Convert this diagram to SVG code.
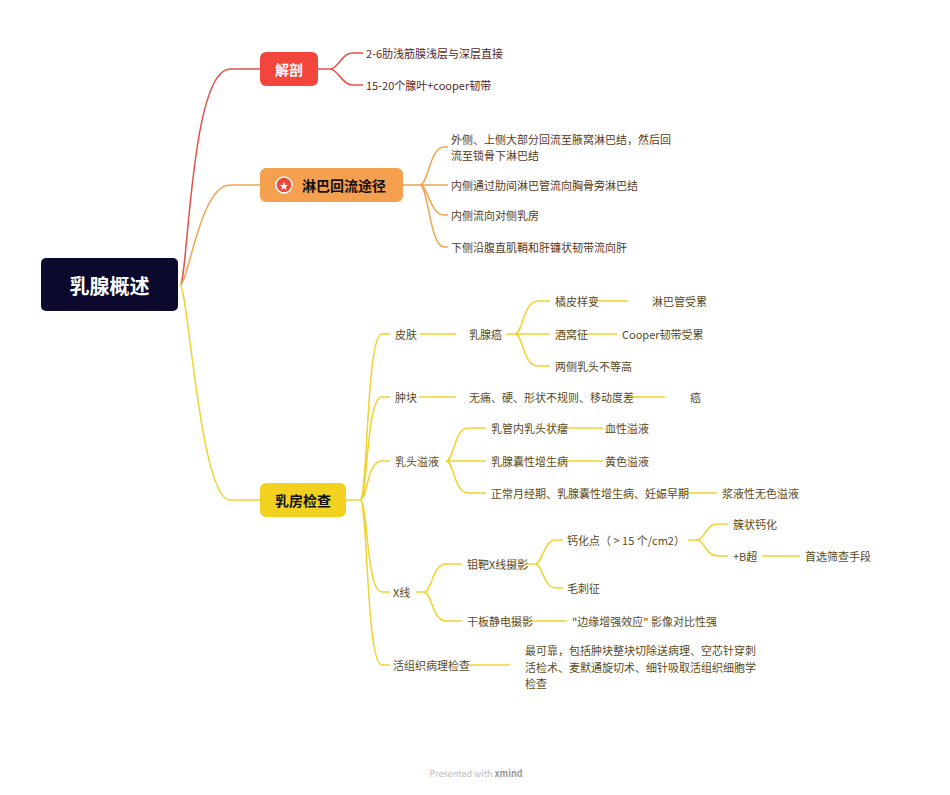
<svg xmlns="http://www.w3.org/2000/svg" width="950" height="795" viewBox="0 0 950 795">
<style>
text{font-family:"Noto Sans CJK SC","Noto Sans",sans-serif;dominant-baseline:central}
.t{font-size:11px;fill:#5b4a1a}
.tr{font-size:11px;fill:#5c1f1f}
.to{font-size:11px;fill:#5a3a1a}
.r{stroke:#e6504a;fill:none;stroke-width:1.5}
.o{stroke:#f0a550;fill:none;stroke-width:1.5}
.y{stroke:#f2d230;fill:none;stroke-width:1.5}
.h{font-size:14px;font-weight:bold}
</style>
<rect width="950" height="795" fill="#fff"/>
<g id="connectors">
<path class="r" d="M180 285 C188 285 190 69 230 69 L260 69"/>
<path class="o" d="M180 285 C188 285 200 185 230 185 L260 185"/>
<path class="y" d="M180 285 C188 285 200 500 230 500 L260 500"/>
<path class="r" d="M318 69 L330 69 C338 69 342 53 352 53 L363 53 M330 69 C338 69 342 85 352 85 L363 85"/>
<path class="o" d="M403 185 L420 185 M420 185 C428 185 430 147 444 147 L448 147 M420 185 L448 185 M420 185 C428 185 430 215 444 215 L448 215 M420 185 C428 185 430 247 444 247 L448 247"/>
<path class="y" d="M346 500 L360 500 M360 500 C368 500 366 334 382 334 L390 334 M360 500 C368 500 366 397 382 397 L390 397 M360 500 C368 500 366 461 382 461 L390 461 M360 500 C368 500 366 592 382 592 L390 592 M360 500 C368 500 366 665 382 665 L390 665"/>
<path class="y" d="M420 334 L456 334 M506 334 L515 334 C523 334 523 301 538 301 L550 301 M515 334 L550 334 M515 334 C523 334 523 366 538 366 L550 366"/>
<path class="y" d="M590 301 L628 301 M578 334 L617 334 M419 397 L456 397 M625 397 L665 397"/>
<path class="y" d="M446 461 C454 461 454 428 468 428 L486 428 M446 461 L486 461 M446 461 C454 461 454 493 468 493 L486 493 M563 428 L603 428 M563 461 L603 461 M678 493 L717 493"/>
<path class="y" d="M416 592 L424 592 C432 592 432 564 446 564 L462 564 M424 592 C432 592 432 621 446 621 L462 621"/>
<path class="y" d="M526 564 L535 564 C543 564 543 540 556 540 L563 540 M535 564 C543 564 543 588 556 588 L563 588 M527 621 L567 621"/>
<path class="y" d="M688 540 L697 540 C705 540 705 524 718 524 L728 524 M697 540 C705 540 705 556 718 556 L728 556 M762 556 L800 556 M470 665 L510 665"/>
</g>
<g id="root"><rect x="41" y="258" width="137" height="53" rx="5" fill="#0b0a2e"/><text x="109.5" y="285" fill="#fff" font-size="20" font-weight="bold" text-anchor="middle">乳腺概述</text></g>
<g id="n-jiepou"><rect x="260" y="52" width="58" height="34" rx="6" fill="#f2463d"/><text x="289" y="69" fill="#fff" class="h" text-anchor="middle">解剖</text></g>
<g id="n-jp1"><text x="366" y="53" class="tr">2-6肋浅筋膜浅层与深层直接</text></g>
<g id="n-jp2"><text x="366" y="85" class="tr">15-20个腺叶+cooper韧带</text></g>
<g id="n-lin"><rect x="260" y="168" width="143" height="34" rx="6" fill="#f4a04e"/><circle cx="284" cy="185" r="8" fill="#e8493f" stroke="#fff" stroke-width="1.5"/><text x="284" y="185.5" fill="#fff" font-size="9" text-anchor="middle">★</text><text x="302" y="185" class="h" fill="#111">淋巴回流途径</text></g>
<g id="n-l1"><text x="451" y="139" class="to">外侧、上侧大部分回流至腋窝淋巴结，然后回</text><text x="451" y="155" class="to">流至锁骨下淋巴结</text></g>
<g id="n-l2"><text x="451" y="185" class="to">内侧通过肋间淋巴管流向胸骨旁淋巴结</text></g>
<g id="n-l3"><text x="451" y="215" class="to">内侧流向对侧乳房</text></g>
<g id="n-l4"><text x="451" y="247" class="to">下侧沿腹直肌鞘和肝镰状韧带流向肝</text></g>
<g id="n-exam"><rect x="260" y="483" width="86" height="34" rx="6" fill="#f2d21e"/><text x="303" y="500" class="h" fill="#111" text-anchor="middle">乳房检查</text></g>
<g id="n-pf"><text x="395" y="334" class="t">皮肤</text></g>
<g id="n-rxa"><text x="469" y="334" class="t">乳腺癌</text></g>
<g id="n-jp"><text x="555" y="301" class="t">橘皮样变</text></g>
<g id="n-lbg"><text x="652" y="301" class="t">淋巴管受累</text></g>
<g id="n-jwz"><text x="555" y="334" class="t">酒窝征</text></g>
<g id="n-cp"><text x="622" y="334" class="t">Cooper韧带受累</text></g>
<g id="n-lc"><text x="555" y="366" class="t">两侧乳头不等高</text></g>
<g id="n-zk"><text x="395" y="397" class="t">肿块</text></g>
<g id="n-wt"><text x="469" y="397" class="t">无痛、硬、形状不规则、移动度差</text></g>
<g id="n-ai"><text x="690" y="397" class="t">癌</text></g>
<g id="n-rt"><text x="395" y="461" class="t">乳头溢液</text></g>
<g id="n-rg"><text x="491" y="428" class="t">乳管内乳头状瘤</text></g>
<g id="n-xx"><text x="605" y="428" class="t">血性溢液</text></g>
<g id="n-nx"><text x="491" y="461" class="t">乳腺囊性增生病</text></g>
<g id="n-hs"><text x="605" y="461" class="t">黄色溢液</text></g>
<g id="n-zc"><text x="491" y="493" class="t">正常月经期、乳腺囊性增生病、妊娠早期</text></g>
<g id="n-jy"><text x="722" y="493" class="t">浆液性无色溢液</text></g>
<g id="n-xray"><text x="393" y="592" class="t">X线</text></g>
<g id="n-mb"><text x="467" y="564" class="t">钼靶X线摄影</text></g>
<g id="n-gh"><text x="567" y="540" class="t">钙化点（ &gt; 15 个/cm2）</text></g>
<g id="n-cz"><text x="733" y="524" class="t">簇状钙化</text></g>
<g id="n-b"><text x="733" y="556" class="t">+B超</text></g>
<g id="n-sx"><text x="805" y="556" class="t">首选筛查手段</text></g>
<g id="n-mc"><text x="567" y="588" class="t">毛刺征</text></g>
<g id="n-gb"><text x="467" y="621" class="t">干板静电摄影</text></g>
<g id="n-by"><text x="572" y="621" class="t">"边缘增强效应" 影像对比性强</text></g>
<g id="n-hz"><text x="393" y="665" class="t">活组织病理检查</text></g>
<g id="n-zk2"><text x="525" y="650" class="t">最可靠，包括肿块整块切除送病理、空芯针穿刺</text><text x="525" y="667" class="t">活检术、麦默通旋切术、细针吸取活组织细胞学</text><text x="525" y="683" class="t">检查</text></g>
<text x="476" y="773" font-size="9" fill="#bbb" text-anchor="middle">Presented with <tspan font-weight="bold" fill="#999">xmind</tspan></text>
</svg>
